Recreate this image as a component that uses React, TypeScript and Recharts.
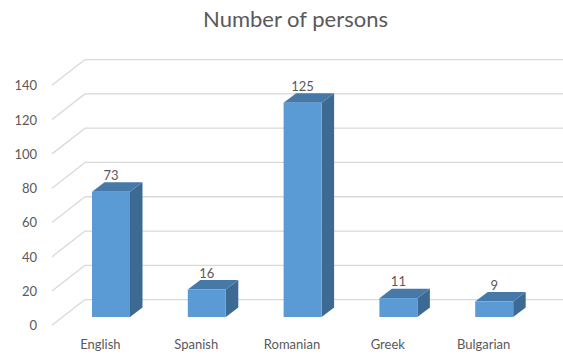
import { BarChart, Bar, XAxis, YAxis, CartesianGrid, LabelList } from 'recharts'

const languages = ['English', 'Spanish', 'Romanian', 'Greek', 'Bulgarian']
const persons = [73, 16, 125, 11, 9]
const yTicks = [0, 20, 40, 60, 80, 100, 120, 140]

const data = languages.map((name, i) => ({ name, persons: persons[i] }))

const FONT = 'Lato, "Open Sans", sans-serif'
const TEXT = '#595959'
const GRID = '#D9D9D9'

// depth of the 3d look
const BAR_DX = 12.5
const BAR_DY = 9.5
const WALL_FRONT = { dx: -11, dy: 8.3 }
const WALL_BACK = { dx: 22, dy: -17.4 }

// bar as a little box: front, top and right side
const Box = (props: any) => {
  const { x, y, width, height } = props
  if (width == null || height == null) return null
  const top = `${x},${y} ${x + BAR_DX},${y - BAR_DY} ${x + width + BAR_DX},${y - BAR_DY} ${x + width},${y}`
  const side = `${x + width},${y} ${x + width + BAR_DX},${y - BAR_DY} ${x + width + BAR_DX},${y + height - BAR_DY} ${x + width},${y + height}`
  return (
    <g>
      <polygon points={side} fill="#3D6A93" />
      <polygon points={top} fill="#4678A8" />
      <rect x={x} y={y} width={width} height={height} fill="#5B9BD5" />
    </g>
  )
}

// back wall line + diagonal on the side wall
const WallLine = (props: any) => {
  const { x1, y1, x2, index } = props
  return (
    <g key={`wall-${index}`}>
      <line
        x1={x1 + WALL_FRONT.dx}
        y1={y1 + WALL_FRONT.dy}
        x2={x1 + WALL_BACK.dx}
        y2={y1 + WALL_BACK.dy}
        stroke={GRID}
        strokeWidth={1.3}
      />
      <line
        x1={x1 + WALL_BACK.dx}
        y1={y1 + WALL_BACK.dy}
        x2={x2 + 30}
        y2={y1 + WALL_BACK.dy}
        stroke={GRID}
        strokeWidth={1.3}
      />
    </g>
  )
}

const YTick = (props: any) => {
  const { y, payload } = props
  return (
    <text x={37} y={y + WALL_FRONT.dy} textAnchor="end" dominantBaseline="central" fontSize={13} fill={TEXT} fontFamily={FONT}>
      {payload.value}
    </text>
  )
}

const XTick = (props: any) => {
  const { x, y, payload } = props
  return (
    <text x={x - 10.5} y={y + 24} textAnchor="middle" fontSize={13} fill={TEXT} fontFamily={FONT}>
      {payload.value}
    </text>
  )
}

const ValueLabel = (props: any) => {
  const { x, y, width, value } = props
  return (
    <text x={x + width / 2} y={y - 12} textAnchor="middle" fontSize={13} fill={TEXT} fontFamily={FONT}>
      {value}
    </text>
  )
}

export default function App() {
  return (
    <div style={{ width: 563, height: 354, position: 'relative', overflow: 'hidden', background: '#fff' }}>
      <style>{'body { margin: 0; overflow: hidden; }'}</style>
      <div
        style={{
          position: 'absolute',
          top: 5,
          left: 14,
          width: 563,
          textAlign: 'center',
          fontFamily: FONT,
          fontSize: 22,
          color: TEXT,
        }}
      >
        Number of persons
      </div>
      <BarChart width={563} height={354} data={data} margin={{ top: 77, right: 21, left: 0, bottom: 7 }}>
        <CartesianGrid vertical={false} horizontal={WallLine} />
        <XAxis dataKey="name" axisLine={false} tickLine={false} height={30} tick={XTick} interval={0} />
        <YAxis
          width={63}
          domain={[0, 140]}
          ticks={yTicks}
          axisLine={false}
          tickLine={false}
          tick={YTick}
          interval={0}
        />
        <Bar dataKey="persons" barSize={38} shape={Box} isAnimationActive={false}>
          <LabelList dataKey="persons" content={ValueLabel} />
        </Bar>
      </BarChart>
    </div>
  )
}
